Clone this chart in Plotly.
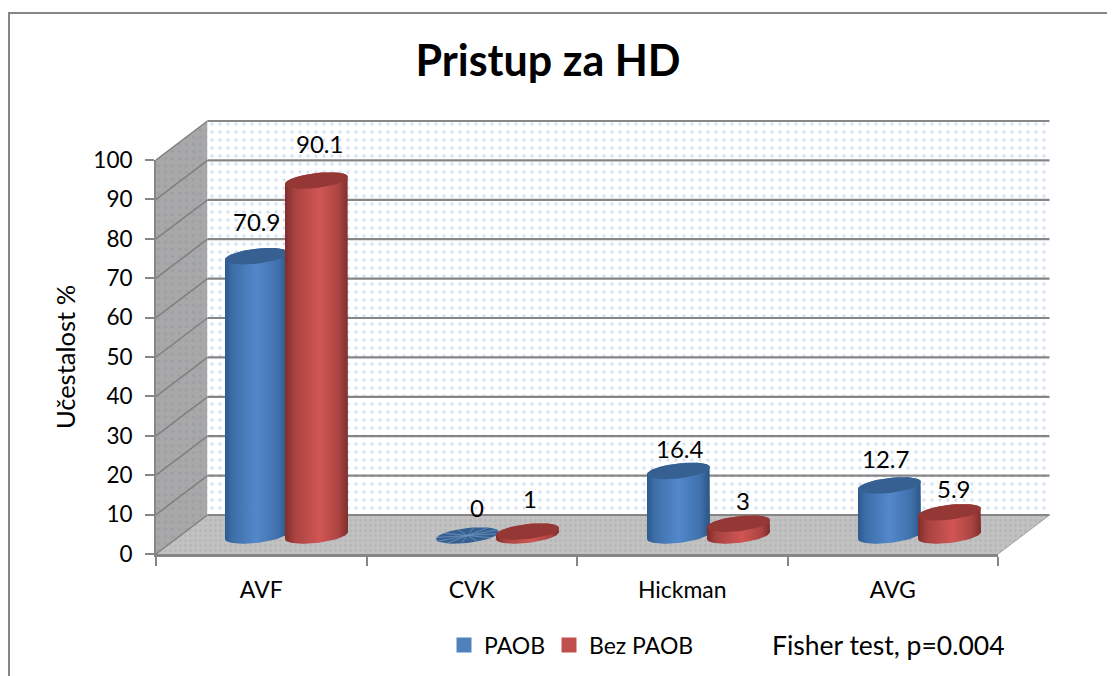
import math
import plotly.graph_objects as go

categories = ["AVF", "CVK", "Hickman", "AVG"]
paob = [70.9, 0, 16.4, 12.7]
bez_paob = [90.1, 1, 3, 5.9]
y_ticks = list(range(0, 101, 10))

PAD = 8                  # browser body margin
W, H = 1115 - PAD, 676 - PAD
X0, CAT_W = 156.0, 210.5
Y0, PX_PER = 554.0, 3.94
DX, DY = 51.5, 39.0      # depth of the 3D box in pixels


def ux(px):
    return (px - X0) / CAT_W - 0.5


def uy(py):
    return (Y0 - py) / PX_PER


def fx(px):
    return (px - PAD) / W


def fy(py):
    return 1 - (py - PAD) / H


def poly(points):
    return [ux(p[0]) for p in points], [uy(p[1]) for p in points]


R, B_H, TILT = 31.5, 7.5, 3.5
BASE_DY = 18.5
BAR_X0, BAR_STEP = 256.5, 211.0
OFFS = {"blue": 0.0, "red": 60.0}


def ellipse(cx, cy, t0, t1, n=40):
    pts = []
    for i in range(n + 1):
        t = t0 + (t1 - t0) * i / n
        pts.append((cx + R * math.cos(t), cy + B_H * math.sin(t) - TILT * math.cos(t)))
    return pts


fig = go.Figure()
right = X0 + 4 * CAT_W
top = Y0 - 100 * PX_PER

# Side wall
xs, ys = poly([(X0, top), (X0 + DX, top - DY), (X0 + DX, Y0 - DY), (X0, Y0), (X0, top)])
fig.add_trace(go.Scatter(x=xs, y=ys, mode="lines", fill="toself", line=dict(width=0),
                         fillcolor="#a6a6a6", showlegend=False, hoverinfo="skip",
                         fillpattern=dict(shape=".", fgcolor="#8f99a8", bgcolor="#a8a8a8", size=7, solidity=0.2)))
# Back wall
xs, ys = poly([(X0 + DX, top - DY), (right + DX, top - DY), (right + DX, Y0 - DY), (X0 + DX, Y0 - DY), (X0 + DX, top - DY)])
fig.add_trace(go.Scatter(x=xs, y=ys, mode="lines", fill="toself", line=dict(width=0),
                         fillcolor="white", showlegend=False, hoverinfo="skip",
                         fillpattern=dict(shape=".", fgcolor="#a9c4e8", bgcolor="white", size=8, solidity=0.14)))
# Floor
xs, ys = poly([(X0, Y0), (X0 + DX, Y0 - DY), (right + DX, Y0 - DY), (right, Y0), (X0, Y0)])
fig.add_trace(go.Scatter(x=xs, y=ys, mode="lines", fill="toself", line=dict(width=0),
                         fillcolor="#bdbdbd", showlegend=False, hoverinfo="skip",
                         fillpattern=dict(shape=".", fgcolor="#aeaeae", bgcolor="#c2c2c2", size=5, solidity=0.35)))

# Gridlines: back wall and side wall
gx, gy, sx, sy = [], [], [], []
for v in y_ticks:
    p = Y0 - v * PX_PER
    a, b = poly([(X0 + DX, p - DY), (right + DX, p - DY)])
    gx += a + [None]
    gy += b + [None]
    a, b = poly([(X0, p), (X0 + DX, p - DY)])
    sx += a + [None]
    sy += b + [None]
fig.add_trace(go.Scatter(x=sx, y=sy, mode="lines", line=dict(color="#7f7f7f", width=1.5),
                         showlegend=False, hoverinfo="skip"))
fig.add_trace(go.Scatter(x=gx, y=gy, mode="lines", line=dict(color="#868686", width=2.2),
                         showlegend=False, hoverinfo="skip"))
xs, ys = poly([(right, Y0), (right + DX, Y0 - DY)])
fig.add_trace(go.Scatter(x=xs, y=ys, mode="lines", line=dict(color="#9a9a9a", width=1),
                         showlegend=False, hoverinfo="skip"))


def bar_cx(i, key):
    return BAR_X0 + i * BAR_STEP + OFFS[key]


def cylinder(i, value, key, scale, topcol):
    cx = bar_cx(i, key)
    cy0 = Y0 - BASE_DY
    cy1 = cy0 - value * PX_PER
    fig.add_trace(go.Bar(x=[ux(cx)], y=[value], base=[uy(cy0)], width=[2 * R / CAT_W * 0.98],
                         marker=dict(color=scale[2][1], line=dict(width=0)),
                         showlegend=False, hoverinfo="skip"))
    if value > 0:
        pts = ellipse(cx, cy0, math.pi, 0) + ellipse(cx, cy1, 0, -math.pi)
        pts.append(pts[0])
        xs, ys = poly(pts)
        fig.add_trace(go.Scatter(x=xs, y=ys, mode="lines", fill="toself", line=dict(width=0),
                                 fillgradient=dict(type="horizontal", colorscale=scale),
                                 showlegend=False, hoverinfo="skip"))
    pts = ellipse(cx, cy1, 0, 2 * math.pi)
    xs, ys = poly(pts)
    fig.add_trace(go.Scatter(x=xs, y=ys, mode="lines", fill="toself", line=dict(width=0),
                             fillcolor=topcol, showlegend=False, hoverinfo="skip"))
    if value == 0:
        sp_x, sp_y = [], []
        for k in range(12):
            t = 2 * math.pi * k / 12 + 0.2
            a, b = poly([(cx, cy1), ellipse(cx, cy1, t, t, 1)[0]])
            sp_x += a + [None]
            sp_y += b + [None]
        fig.add_trace(go.Scatter(x=sp_x, y=sp_y, mode="lines", line=dict(color="#6f93bf", width=0.8),
                                 showlegend=False, hoverinfo="skip"))


BLUE = [[0, "#2c5a8e"], [0.12, "#3d6ea8"], [0.5, "#5288cb"], [0.85, "#3f70ab"], [1, "#2a5584"]]
RED = [[0, "#7f2d2b"], [0.15, "#a84240"], [0.55, "#d05654"], [0.85, "#ac4542"], [1, "#7e2e2c"]]

for i in range(len(categories)):
    cylinder(i, paob[i], "blue", BLUE, "#376092")
    cylinder(i, bez_paob[i], "red", RED, "#953735")

# Legend keys: one legend per key so each can be placed as in the reference
for nm, col, lg in (("PAOB", "#4f81bd", "legend"), ("Bez PAOB", "#c0504d", "legend2")):
    fig.add_trace(go.Scatter(x=[None], y=[None], mode="markers", name=nm, hoverinfo="skip", legend=lg,
                             showlegend=True, marker=dict(symbol="square", size=15, color=col)))

# Data labels
lab_dy_blue = [35, 28, 22, 27]
lab_dy_red = [37, 33, 23, 24]
lab_dx_blue = [0, 9.5, 1.5, -4.5]
lab_dx_red = [2.5, 2.5, 4.5, 4.5]
FONT = "Lato"
notes = []
for i in range(len(categories)):
    for vals, key, dys, dxs in ((paob, "blue", lab_dy_blue, lab_dx_blue), (bez_paob, "red", lab_dy_red, lab_dx_red)):
        cx = bar_cx(i, key) + dxs[i]
        py = Y0 - BASE_DY - vals[i] * PX_PER - dys[i]
        notes.append(dict(x=ux(cx), y=uy(py), xref="x", yref="y", text=str(vals[i]), showarrow=False,
                          font=dict(family=FONT, size=24, color="black")))
notes.append(dict(text="Fisher test, p=0.004", x=fx(888), y=fy(645), xref="paper", yref="paper", showarrow=False,
                  xanchor="center", yanchor="middle", font=dict(family=FONT, size=26.5, color="black")))

# Visible axes overlay (front plane)
fig.add_trace(go.Scatter(x=categories, y=[None] * 4, xaxis="x2", yaxis="y2", mode="markers",
                         showlegend=False, hoverinfo="skip"))

AX = "#868686"
LEG = dict(orientation="h", y=fy(645), xanchor="left", yanchor="middle",
           font=dict(family=FONT, size=23), bgcolor="rgba(0,0,0,0)", itemsizing="trace",
           traceorder="normal", itemwidth=30)
fig.update_layout(
    width=W, height=H, autosize=False,
    margin=dict(l=0, r=0, t=0, b=0, autoexpand=False),
    paper_bgcolor="white", plot_bgcolor="rgba(0,0,0,0)",
    barmode="overlay",
    showlegend=True,
    font=dict(family=FONT, color="black"),
    title=dict(text="<b>Pristup za HD</b>", x=fx(548), xanchor="center", y=fy(61), yanchor="middle",
               font=dict(family=FONT, size=43, color="black")),
    legend=dict(LEG, x=fx(444)),
    legend2=dict(LEG, x=fx(549)),
    xaxis=dict(domain=[0, 1], range=[ux(PAD), ux(PAD + W)], visible=False, fixedrange=True),
    yaxis=dict(domain=[0, 1], range=[uy(PAD + H), uy(PAD)], visible=False, fixedrange=True),
    xaxis2=dict(domain=[fx(X0), fx(right)], anchor="y2", type="category", categoryorder="array",
                categoryarray=categories, range=[-0.5, 3.5], tickson="boundaries", ticklabelstandoff=13,
                ticks="outside", ticklen=9, tickwidth=2, tickcolor=AX, showline=True, linecolor=AX, linewidth=3,
                showgrid=False, zeroline=False, tickfont=dict(family=FONT, size=23), fixedrange=True),
    yaxis2=dict(domain=[fy(Y0), fy(top)], anchor="x2", range=[0, 100], tickvals=y_ticks, ticklabelstandoff=8,
                ticks="outside", ticklen=9, tickwidth=2, tickcolor=AX, showline=True, linecolor=AX, linewidth=2,
                showgrid=False, zeroline=False, tickfont=dict(family=FONT, size=22.5), fixedrange=True,
                title=dict(text="Učestalost %", font=dict(family=FONT, size=25.5), standoff=10)),
    annotations=notes,
    shapes=[dict(type="rect", xref="paper", yref="paper", x0=fx(9), x1=1.05, y0=-0.05, y1=fy(13),
                 line=dict(color="#868686", width=2), fillcolor="rgba(0,0,0,0)", layer="above")],
)

fig.write_html("out.html")
